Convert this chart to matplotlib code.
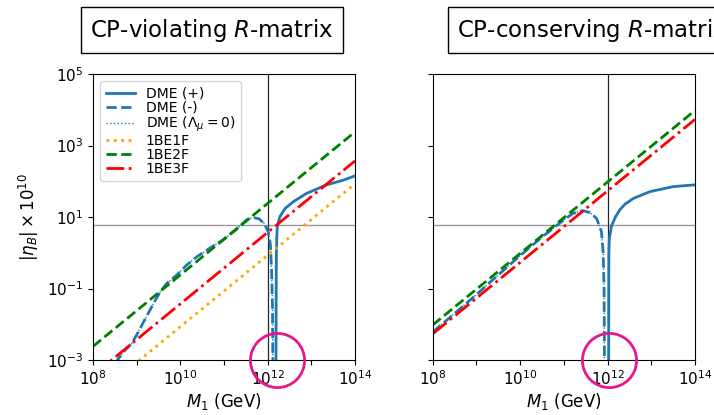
import numpy as np
import matplotlib
matplotlib.use('Agg')
from matplotlib import pyplot as plt
from matplotlib.ticker import FixedLocator, NullLocator, FuncFormatter

# values, as log10 of M1 (GeV) and log10 of |eta_B| x 1e10
# CP-violating panel
viol_plus_logm = [12.19, 12.195, 12.2, 12.21, 12.22, 12.28, 12.40, 12.59, 12.89, 13.35, 13.73, 14.0]
viol_plus_loge = [-3.3, -1.0, 0.0, 0.45, 0.73, 1.01, 1.24, 1.43, 1.66, 1.90, 2.03, 2.15]
viol_minus_logm = [8.50, 8.70, 8.89, 9.0, 9.16, 9.39, 9.54, 9.69, 9.92, 10.15, 10.38, 10.7,
                   10.98, 11.25, 11.52, 11.66, 11.8, 11.92, 12.01, 12.06, 12.09, 12.11, 12.12]
viol_minus_loge = [-3.1, -2.77, -2.53, -2.30, -1.93, -1.41, -1.09, -0.86, -0.62, -0.34, -0.11, 0.15,
                   0.36, 0.62, 0.92, 0.99, 0.95, 0.82, 0.59, 0.26, -0.5, -1.5, -3.3]
viol_1be_logm = [8.0, 14.0]
viol_1be1f_loge = [-4.07, 1.93]
viol_1be2f_loge = [-2.62, 3.38]
viol_1be3f_loge = [-3.43, 2.57]

# CP-conserving panel
cons_plus_logm = [12.025, 12.028, 12.03, 12.04, 12.09, 12.18, 12.28, 12.4, 12.59, 12.97, 13.5, 14.0]
cons_plus_loge = [-3.3, -1.0, 0.0, 0.4, 0.75, 1.0, 1.2, 1.36, 1.52, 1.71, 1.85, 1.90]
cons_minus_logm = [8.0, 8.5, 9.0, 9.5, 10.0, 10.5, 11.0, 11.21, 11.44, 11.6, 11.75, 11.86, 11.9, 11.92, 11.93]
cons_minus_loge = [-2.22, -1.70, -1.17, -0.62, -0.08, 0.44, 0.92, 1.10, 1.18, 1.12, 0.96, 0.59, 0.0, -1.0, -3.3]
cons_1be_logm = [8.0, 14.0]
cons_1be2f_loge = [-2.02, 3.98]
cons_1be3f_loge = [-2.27, 3.73]

eta_obs = 6.1
m_ref = 1e12
circle_m = [1.6e12, 1.07e12]

titles = ['CP-violating $R$-matrix', 'CP-conserving $R$-matrix']

blue = '#1f77b4'
pink = '#e8168b'

fig = plt.figure(figsize=(7.14, 4.15), dpi=100)
ax1 = fig.add_axes([93/714, 1 - 360/415, 262/714, 286/415])
ax2 = fig.add_axes([432.7/714, 1 - 360/415, 262.3/714, 286/415])


def p(a):
    return 10.0 ** np.asarray(a)


ax1.plot(p(viol_plus_logm), p(viol_plus_loge), '-', color=blue, lw=2, label='DME (+)')
ax1.plot(p(viol_minus_logm), p(viol_minus_loge), '--', color=blue, lw=2, label='DME (-)')
ax1.plot(p(viol_minus_logm), p(viol_minus_loge), ':', color=blue, lw=1, label=r'DME ($\Lambda_\mu = 0$)')
ax1.plot(p(viol_1be_logm), p(viol_1be1f_loge), ':', color='orange', lw=2, label='1BE1F')
ax1.plot(p(viol_1be_logm), p(viol_1be2f_loge), '--', color='green', lw=2, label='1BE2F')
ax1.plot(p(viol_1be_logm), p(viol_1be3f_loge), '-.', color='red', lw=2, label='1BE3F')

ax2.plot(p(cons_plus_logm), p(cons_plus_loge), '-', color=blue, lw=2)
ax2.plot(p(cons_minus_logm), p(cons_minus_loge), '--', color=blue, lw=2)
ax2.plot(p(cons_minus_logm), p(cons_minus_loge), ':', color=blue, lw=1)
ax2.plot(p(cons_1be_logm), p(cons_1be2f_loge), '--', color='green', lw=2)
ax2.plot(p(cons_1be_logm), p(cons_1be3f_loge), '-.', color='red', lw=2)

ax1.legend(loc='upper left', fontsize=10, labelspacing=0.0, handlelength=2.1)


def xfmt(v, pos):
    e = int(round(np.log10(v)))
    return r'$\mathdefault{10^{%d}}$' % e if e % 2 == 0 else ''


for i, ax in enumerate([ax1, ax2]):
    ax.set_xscale('log')
    ax.set_yscale('log')
    ax.set_xlim(1e8, 1e14)
    ax.set_ylim(1e-3, 1e5)
    ax.axhline(eta_obs, color='0.6', lw=1, zorder=0)
    ax.axvline(m_ref, color='0.15', lw=0.9, zorder=0)
    ax.plot([circle_m[i]], [1e-3], 'o', ms=39, mfc='none', mec=pink, mew=2, clip_on=False, zorder=5)
    ax.xaxis.set_major_locator(FixedLocator(p(range(8, 15))))
    ax.xaxis.set_major_formatter(FuncFormatter(xfmt))
    ax.xaxis.set_minor_locator(NullLocator())
    ax.yaxis.set_major_locator(FixedLocator(p([-3, -1, 1, 3, 5])))
    ax.yaxis.set_minor_locator(NullLocator())
    ax.tick_params(labelsize=11)
    ax.set_xlabel('$M_1$ (GeV)', fontsize=12, labelpad=2)

ax1.set_ylabel(r'$|\eta_B| \times 10^{10}$', fontsize=12)
ax2.set_yticklabels([])

fig.text(90/714, 1 - 30/415, titles[0], fontsize=16.5, ha='left', va='center',
         bbox=dict(boxstyle='square,pad=0.4', fc='white', ec='black', lw=1))
fig.text(457/714, 1 - 30/415, titles[1], fontsize=16.5, ha='left', va='center',
         bbox=dict(boxstyle='square,pad=0.4', fc='white', ec='black', lw=1))

fig.savefig('out.png', dpi=100)
